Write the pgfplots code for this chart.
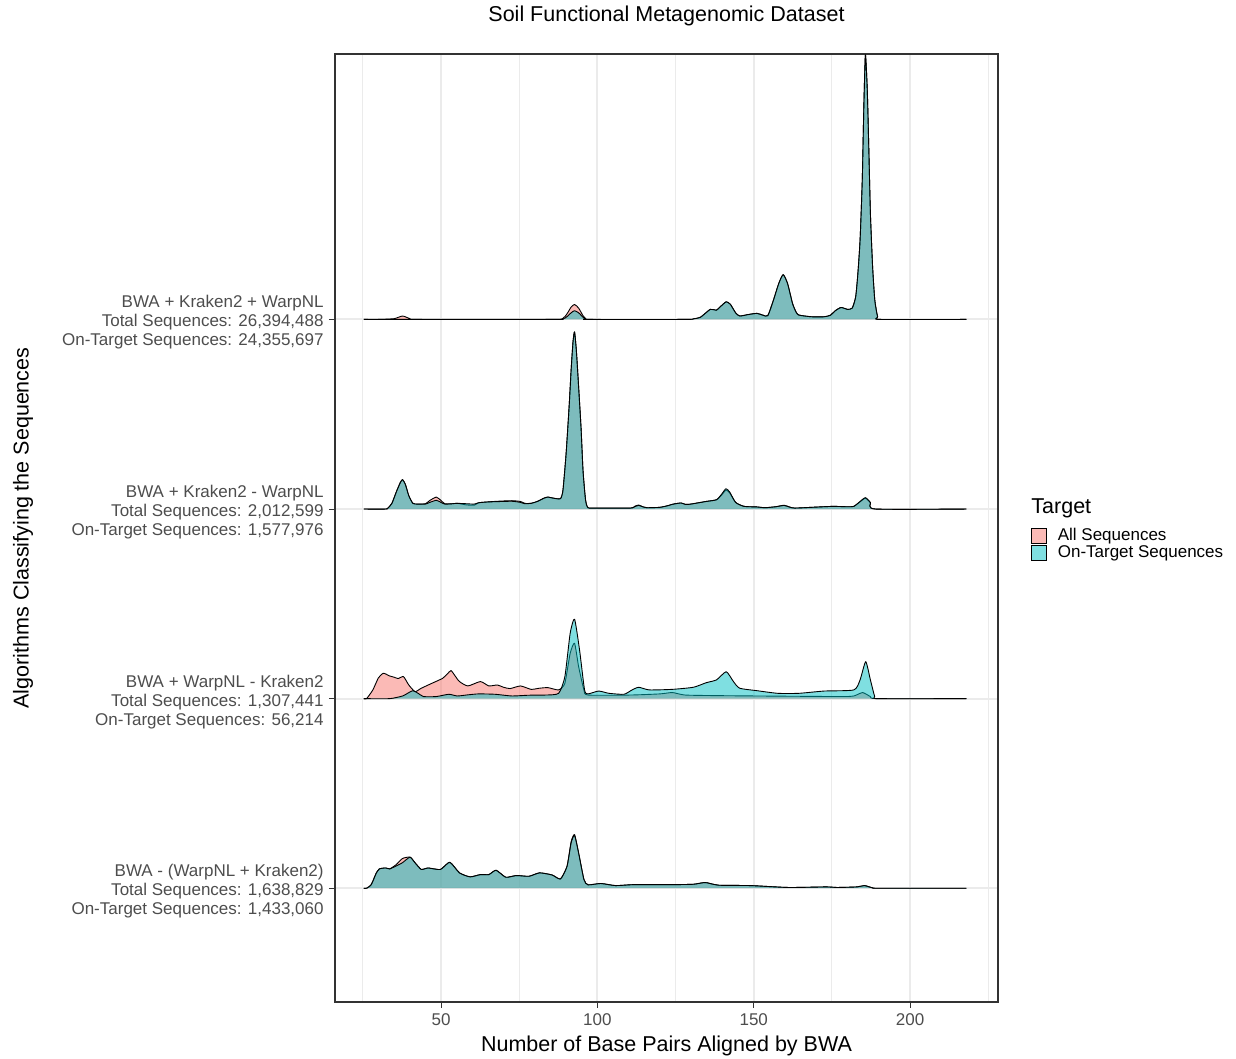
\documentclass[border=0pt]{standalone}
\usepackage{pgfplots}
\pgfplotsset{compat=1.18}
\usepackage{pgfplotstable}
\usepackage{fontspec}
\setmainfont{Liberation Sans}

\definecolor{allc}{HTML}{F8766D}
\definecolor{onc}{HTML}{00BFC4}
\definecolor{gridc}{HTML}{EBEBEB}
\definecolor{tickc}{HTML}{4D4D4D}
\definecolor{framec}{HTML}{333333}

% Density ridges: x = base pairs aligned, h = scaled density height above the ridge baseline
% Ridge 4: BWA + Kraken2 + WarpNL
\pgfplotstableread{
x h
25.3 0
30.3 0
35 0.004
37.7 0.018
40.1 0.004
42 0
85 0
88.9 0.005
90.3 0.03
91.6 0.065
92.7 0.079
94.0 0.06
95.4 0.02
96.3 0.004
97 0
128 0
130.7 0.003
133 0.012
136.1 0.053
138.1 0.049
139.5 0.07
141.2 0.093
142.5 0.08
144.2 0.035
145.5 0.018
148 0.025
151 0.032
153 0.022
154.5 0.02
156.3 0.102
158 0.19
159.4 0.236
160.8 0.19
162.4 0.084
163.5 0.04
164.4 0.023
168.5 0.014
172.5 0.014
174.5 0.022
176 0.045
177.9 0.063
180 0.053
181.5 0.06
182.6 0.12
183.3 0.243
184 0.419
184.7 0.735
185.2 1.122
185.7 1.395
186.3 1.21
186.8 0.894
187.3 0.559
188 0.278
188.7 0.102
189.6 0.014
190.4 0
218 0
}\rFourAll
\pgfplotstableread{
x h
25.3 0
85 0
88.9 0.002
90.3 0.015
91.6 0.035
92.7 0.046
94.0 0.035
95.4 0.012
96.3 0.002
97 0
128 0
130.7 0.003
133 0.012
136.1 0.053
138.1 0.049
139.5 0.07
141.2 0.093
142.5 0.08
144.2 0.035
145.5 0.018
148 0.025
151 0.032
153 0.022
154.5 0.02
156.3 0.102
158 0.19
159.4 0.236
160.8 0.19
162.4 0.084
163.5 0.04
164.4 0.023
168.5 0.014
172.5 0.014
174.5 0.022
176 0.045
177.9 0.063
180 0.053
181.5 0.06
182.6 0.12
183.3 0.243
184 0.419
184.7 0.735
185.2 1.122
185.7 1.395
186.3 1.21
186.8 0.894
187.3 0.559
188 0.278
188.7 0.102
189.6 0.014
190.4 0
218 0
}\rFourOn

% Ridge 3: BWA + Kraken2 - WarpNL
\pgfplotstableread{
x h
25.3 0
32.3 0
33.0 0.005
34.3 0.03
35.7 0.09
37.0 0.14
37.7 0.155
38.6 0.13
39.7 0.07
41.0 0.03
42.5 0.026
45 0.028
46.4 0.045
48.5 0.063
50 0.045
51.2 0.028
53 0.027
55.2 0.03
58 0.022
60.6 0.02
62 0.033
64.6 0.037
68 0.041
72.7 0.044
75.4 0.04
76.8 0.03
78.8 0.03
80.8 0.04
83 0.058
84.2 0.063
86 0.057
88.2 0.055
89 0.1
90 0.292
91 0.55
91.6 0.732
92.2 0.88
92.7 0.934
93.3 0.83
94.0 0.644
94.8 0.42
95.4 0.204
96.2 0.05
97 0.007
100 0.005
110.5 0.005
112 0.015
113.2 0.021
114.5 0.012
115.9 0.007
120 0.009
122.6 0.018
124 0.025
126.7 0.032
128 0.025
129.4 0.025
132 0.032
134.8 0.04
138.1 0.049
139.8 0.075
141.1 0.1
142.3 0.085
144.2 0.035
146.9 0.014
151 0.011
153.6 0.007
157 0.012
159.7 0.02
161.5 0.01
163.1 0.005
168.5 0.009
175.2 0.014
180 0.012
182 0.014
184 0.038
185.7 0.057
187.3 0.033
188.9 0
218 0
}\rThreeAll
\pgfplotstableread{
x h
25.3 0
32.3 0
33.0 0.005
34.3 0.03
35.7 0.09
37.0 0.14
37.7 0.155
38.6 0.13
39.7 0.07
41.0 0.03
42.5 0.026
45 0.026
46.4 0.035
48.5 0.046
50 0.035
51.2 0.026
53 0.027
55.2 0.03
58 0.028
60.6 0.026
62 0.033
64.6 0.037
68 0.039
72.7 0.041
75.4 0.035
76.8 0.028
78.8 0.03
80.8 0.04
83 0.058
84.2 0.063
86 0.057
88.2 0.055
89 0.1
90 0.292
91 0.55
91.6 0.732
92.2 0.88
92.7 0.934
93.3 0.83
94.0 0.644
94.8 0.42
95.4 0.204
96.2 0.05
97 0.007
100 0.005
110.5 0.005
112 0.013
113.2 0.019
114.5 0.012
115.9 0.007
120 0.009
122.6 0.018
124 0.025
126.7 0.032
128 0.025
129.4 0.025
132 0.032
134.8 0.04
138.1 0.049
139.8 0.08
141.1 0.107
142.3 0.09
144.2 0.035
146.9 0.014
151 0.011
153.6 0.007
157 0.012
159.7 0.019
161.5 0.01
163.1 0.005
168.5 0.009
175.2 0.014
180 0.012
182 0.014
184 0.04
185.7 0.06
187.3 0.035
188.9 0
218 0
}\rThreeOn

% Ridge 2: BWA + WarpNL - Kraken2
\pgfplotstableread{
x h
25.3 0
26.2 0
28.2 0.046
30 0.11
31.6 0.134
33.5 0.12
35 0.113
36.3 0.106
38 0.116
39.7 0.072
41.7 0.037
43.7 0.055
47.1 0.081
50.5 0.107
52 0.13
53.2 0.148
54.5 0.12
55.9 0.09
58.6 0.067
62.6 0.09
65.3 0.067
68 0.072
70 0.06
72.1 0.053
75.4 0.067
78.8 0.049
81.5 0.055
84.2 0.058
87.6 0.046
89.6 0.081
91.3 0.239
92.7 0.292
94.0 0.169
95.7 0.046
97 0.019
110.5 0.019
120 0.025
124 0.032
128 0.019
137.5 0.016
151 0.014
177.9 0.011
182 0.014
184.8 0.032
187.3 0.011
189.4 0
218 0
}\rTwoAll
\pgfplotstableread{
x h
25.3 0
33.6 0
37.7 0.014
39.5 0.03
41.0 0.042
42.5 0.03
44.4 0.011
48.5 0.011
52.5 0.023
55.2 0.014
58.6 0.02
62.0 0.025
67.3 0.023
72.7 0.014
78 0.018
83.5 0.019
87.6 0.028
89.6 0.116
91.3 0.345
92.7 0.419
94.3 0.257
95.9 0.046
97 0.025
100.4 0.04
103.7 0.028
108.5 0.023
111 0.045
113.2 0.06
116.6 0.046
124 0.049
130.7 0.06
134.8 0.084
138.1 0.099
141.2 0.142
143.5 0.09
145.5 0.055
151 0.042
157.7 0.028
164.4 0.028
172.5 0.04
182 0.046
184 0.099
185.8 0.195
187.3 0.099
188.7 0.011
190 0
218 0
}\rTwoOn

% Ridge 1: BWA - (WarpNL + Kraken2)
\pgfplotstableread{
x h
25.3 0
26.2 0
27.5 0.015
28.2 0.037
29.3 0.08
30.3 0.102
32.3 0.107
33.6 0.102
35.7 0.125
37.7 0.157
40.1 0.164
41.7 0.134
43.7 0.099
45.8 0.107
49.8 0.099
52.8 0.137
55.9 0.081
59.3 0.06
62.6 0.072
65.3 0.072
67.6 0.095
70.7 0.058
74.1 0.067
78.1 0.063
81.5 0.081
85.5 0.07
88.2 0.049
90.3 0.116
91.6 0.245
92.7 0.283
94.0 0.186
95.7 0.046
97 0.018
101.1 0.025
105.8 0.014
111.8 0.019
124 0.019
130.7 0.021
134.5 0.03
138.8 0.016
148.9 0.014
161.1 0.004
173.2 0.007
176.6 0.004
183 0.007
185.4 0.014
188 0.002
190 0
218 0
}\rOneAll
\pgfplotstableread{
x h
25.3 0
26.2 0
27.5 0.015
28.2 0.037
29.3 0.08
30.3 0.102
32.3 0.107
33.6 0.102
35.7 0.118
37.7 0.135
40.1 0.164
41.7 0.134
43.7 0.099
45.8 0.107
49.8 0.099
52.8 0.137
55.9 0.081
59.3 0.06
62.6 0.072
65.3 0.072
67.6 0.095
70.7 0.058
74.1 0.067
78.1 0.063
81.5 0.081
85.5 0.07
88.2 0.049
90.3 0.116
91.6 0.239
92.7 0.278
94.0 0.186
95.7 0.046
97 0.018
101.1 0.025
105.8 0.014
111.8 0.019
124 0.019
130.7 0.021
134.5 0.03
138.8 0.016
148.9 0.014
161.1 0.004
173.2 0.007
176.6 0.004
183 0.007
185.4 0.014
188 0.002
190 0
218 0
}\rOneOn

\pgfplotsset{
  ridge/.style={forget plot, smooth, tension=0.35, fill opacity=0.5, draw=black,
    line width=0.45pt, line join=round},
}

\begin{document}
\begin{tikzpicture}
\begin{axis}[
  name=ax,
  scale only axis,
  width=331.5pt, height=474pt,
  xmin=16.1, xmax=228.1, ymin=0.4, ymax=5.4,
  xtick={50,100,150,200}, xticklabels={50,100,150,200},
  minor xtick={25,75,125,175,225},
  ytick={1,2,3,4},
  yticklabels={
    {BWA - (WarpNL + Kraken2)\\Total Sequences: 1,638,829\\On-Target Sequences: 1,433,060},
    {BWA + WarpNL - Kraken2\\Total Sequences: 1,307,441\\On-Target Sequences: 56,214},
    {BWA + Kraken2 - WarpNL\\Total Sequences: 2,012,599\\On-Target Sequences: 1,577,976},
    {BWA + Kraken2 + WarpNL\\Total Sequences: 26,394,488\\On-Target Sequences: 24,355,697}},
  xmajorgrids, xminorgrids, ymajorgrids,
  major grid style={gridc, line width=1pt},
  minor grid style={gridc, line width=0.5pt},
  tick align=outside, tick pos=left,
  major tick length=3pt, minor tick length=0pt,
  tick style={framec, line width=0.5pt},
  axis line style={framec, line width=0.6pt},
  ticklabel style={font=\fontsize{8.5}{9.5}\selectfont, text=tickc},
  yticklabel style={align=right, anchor=east, inner sep=0pt, xshift=-2.5pt, yshift=-1.5pt},
  xticklabel style={anchor=base, inner sep=0pt, yshift=-9pt},
  /pgf/number format/assume math mode=true,
  xlabel={Number of Base Pairs Aligned by BWA},
  ylabel={Algorithms Classifying the Sequences},
  title={Soil Functional Metagenomic Dataset},
  label style={font=\fontsize{10.75}{12}\selectfont, text=black},
  xlabel style={at={(axis description cs:0.5,0)}, anchor=base, yshift=-24.5pt},
  ylabel style={at={(axis description cs:-0.4706,0.5)}, anchor=center},
  title style={at={(axis description cs:0.5,1)}, anchor=base, yshift=10pt,
    font=\fontsize{10.75}{12}\selectfont},
  legend image code/.code={\draw[#1] (0pt,-3.75pt) rectangle (7.5pt,3.75pt);},
  legend cell align=left,
  legend style={at={(axis description cs:1.0498,0.5)}, anchor=north west,
    draw=none, fill=none, inner sep=0pt, row sep=0.4pt,
    font=\fontsize{8.5}{9.5}\selectfont,
    nodes={inner sep=0pt},
    /tikz/every odd column/.append style={column sep=5.3pt}},
  clip=false,
]
\addlegendimage{fill=allc, fill opacity=0.5, draw=black, line width=0.4pt}
\addlegendentry{All Sequences}
\addlegendimage{fill=onc, fill opacity=0.5, draw=black, line width=0.4pt}
\addlegendentry{On-Target Sequences}

% top ridge first, lower ridges drawn over it
\addplot[ridge, fill=allc] table[x=x, y expr=\thisrow{h}+4] {\rFourAll};
\addplot[ridge, fill=onc]  table[x=x, y expr=\thisrow{h}+4] {\rFourOn};
\addplot[ridge, fill=allc] table[x=x, y expr=\thisrow{h}+3] {\rThreeAll};
\addplot[ridge, fill=onc]  table[x=x, y expr=\thisrow{h}+3] {\rThreeOn};
\addplot[ridge, fill=allc] table[x=x, y expr=\thisrow{h}+2] {\rTwoAll};
\addplot[ridge, fill=onc]  table[x=x, y expr=\thisrow{h}+2] {\rTwoOn};
\addplot[ridge, fill=allc] table[x=x, y expr=\thisrow{h}+1] {\rOneAll};
\addplot[ridge, fill=onc]  table[x=x, y expr=\thisrow{h}+1] {\rOneOn};

\node[anchor=base west, font=\fontsize{10.75}{12}\selectfont, inner sep=0pt]
  at (axis description cs:1.0498,0.5158) {Target};
\end{axis}
\pgfresetboundingbox
\path ([shift={(-167.5pt,-28.5pt)}]ax.south west) rectangle ([shift={(119pt,27pt)}]ax.north east);
\end{tikzpicture}
\end{document}
